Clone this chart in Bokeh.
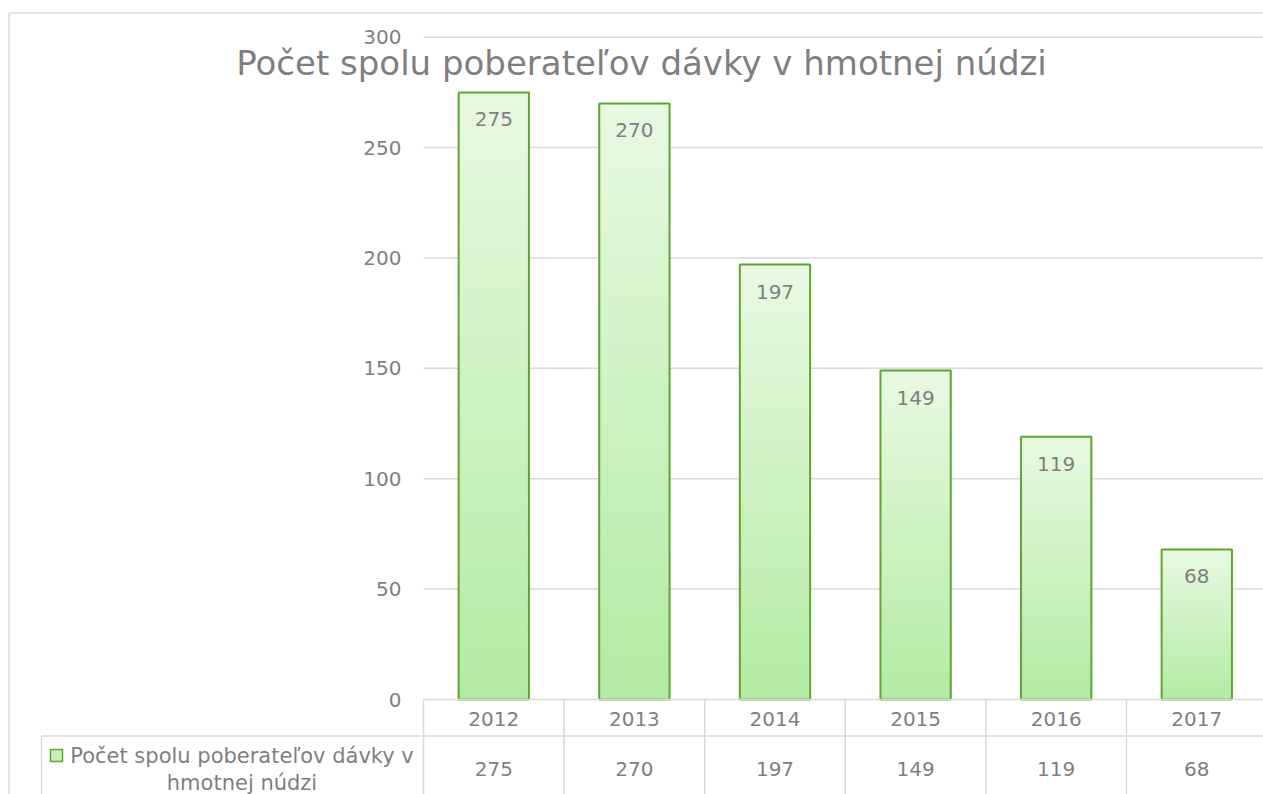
import numpy as np
from bokeh.plotting import figure
from bokeh.models import Range1d
from bokeh.core.properties import value
from bokeh.embed import file_html
from bokeh.resources import INLINE

# ---------------- data ----------------
title_text = "Počet spolu poberateľov dávky v hmotnej núdzi"
legend_lines = ["Počet spolu poberateľov dávky v", "hmotnej núdzi"]
years = ["2012", "2013", "2014", "2015", "2016", "2017"]
counts = [275, 270, 197, 149, 119, 68]
y_ticks = [0, 50, 100, 150, 200, 250, 300]

# ---------------- layout / style ----------------
W, H = 1263, 794
BORDER_X, BORDER_Y = 8.5, 12.5   # chart border position
CAT_W = 140.6       # px per category
PX0 = 423.0         # x where category axis starts
PY0 = 699.0         # y of value 0
PPU = 662.3 / 300   # px per unit


def X(px):
    return (px - PX0) / CAT_W


def Y(py):
    return (PY0 - py) / PPU


FONT = value("DejaVu Sans")
TXT = "#7f7f7f"
GRID = "#d9d9d9"
TOP_C = np.array([0xe8, 0xf9, 0xe2])
BOT_C = np.array([0xb3, 0xeb, 0xa3])
EDGE = "#5fa530"

x0, x1 = X(0), X(W)
y0, y1 = Y(H), Y(0)

p = figure(width=W, height=H, output_backend="svg", toolbar_location=None,
           x_range=Range1d(x0, x1), y_range=Range1d(y0, y1),
           x_axis_type=None, y_axis_type=None,
           min_border_left=0, min_border_right=0, min_border_top=0, min_border_bottom=0)
p.outline_line_color = None
p.grid.visible = False
p.background_fill_color = "white"
p.border_fill_color = "white"

# chart area border (left and top edges visible; right/bottom run off the page)
p.segment(x0=[X(BORDER_X), X(BORDER_X)], x1=[X(BORDER_X), x1],
          y0=[y0, Y(BORDER_Y)], y1=[Y(BORDER_Y), Y(BORDER_Y)],
          line_color=GRID, line_width=1.5)

n = len(counts)
xc = np.arange(n) + 0.5

# gridlines
gt = y_ticks[1:]
p.segment(x0=[0] * len(gt), x1=[x1] * len(gt), y0=gt, y1=gt, line_color=GRID, line_width=1.5)

# bars with vertical gradient: overlapping layers, each from its level up to the bar top
NS = 48
bx, bb, bt, bc = [], [], [], []
for k in range(NS):
    f0 = k / NS
    t = (k + 0.5) / NS
    c = BOT_C + (TOP_C - BOT_C) * t
    col = "#%02x%02x%02x" % tuple(int(round(z)) for z in c)
    for i, v in enumerate(counts):
        bx.append(xc[i]); bb.append(v * f0); bt.append(v)
        bc.append(col)
p.vbar(x=bx, bottom=bb, top=bt, width=0.5, fill_color=bc, line_color=None)
p.vbar(x=xc, bottom=0, top=counts, width=0.5, fill_color=None, line_color=EDGE, line_width=2)

# data labels
p.text(x=xc, y=counts, text=[str(v) for v in counts], y_offset=27,
       text_align="center", text_baseline="middle", text_font=FONT,
       text_font_size="20px", text_color=TXT)

# y tick labels
p.text(x=[X(401)] * len(y_ticks), y=y_ticks, text=[str(t) for t in y_ticks],
       text_align="right", text_baseline="middle", text_font=FONT,
       text_font_size="20px", text_color=TXT)

# data table
p.segment(x0=[0], x1=[x1], y0=[0], y1=[0], line_color=GRID, line_width=1.5)
p.segment(x0=[X(41)], x1=[x1], y0=[Y(735.5)], y1=[Y(735.5)], line_color=GRID, line_width=1.5)
vx = list(range(n + 1))
p.segment(x0=vx, x1=vx, y0=[0] * len(vx), y1=[y0] * len(vx), line_color=GRID, line_width=1.5)
p.segment(x0=[X(41)], x1=[X(41)], y0=[Y(735.5)], y1=[y0], line_color=GRID, line_width=1.5)

p.text(x=xc, y=[Y(718)] * n, text=years, text_align="center", text_baseline="middle",
       text_font=FONT, text_font_size="20px", text_color=TXT)
p.text(x=xc, y=[Y(768)] * n, text=[str(v) for v in counts], text_align="center",
       text_baseline="middle", text_font=FONT, text_font_size="20px", text_color=TXT)

# legend key + series name
p.scatter(x=[X(56)], y=[Y(755)], marker="square", size=12,
          fill_color="#c8f0bc", line_color=EDGE, line_width=1.5)
p.text(x=[X(241.5)] * 2, y=[Y(755), Y(782)], text=legend_lines, text_align="center",
       text_baseline="middle", text_font=FONT, text_font_size="21px", text_color=TXT)

# title
p.text(x=[X(641)], y=[Y(62.5)], text=[title_text], text_align="center",
       text_baseline="alphabetic", text_font=FONT, text_font_size="34px", text_color=TXT)

open("out.html", "w").write(file_html(p, INLINE))
